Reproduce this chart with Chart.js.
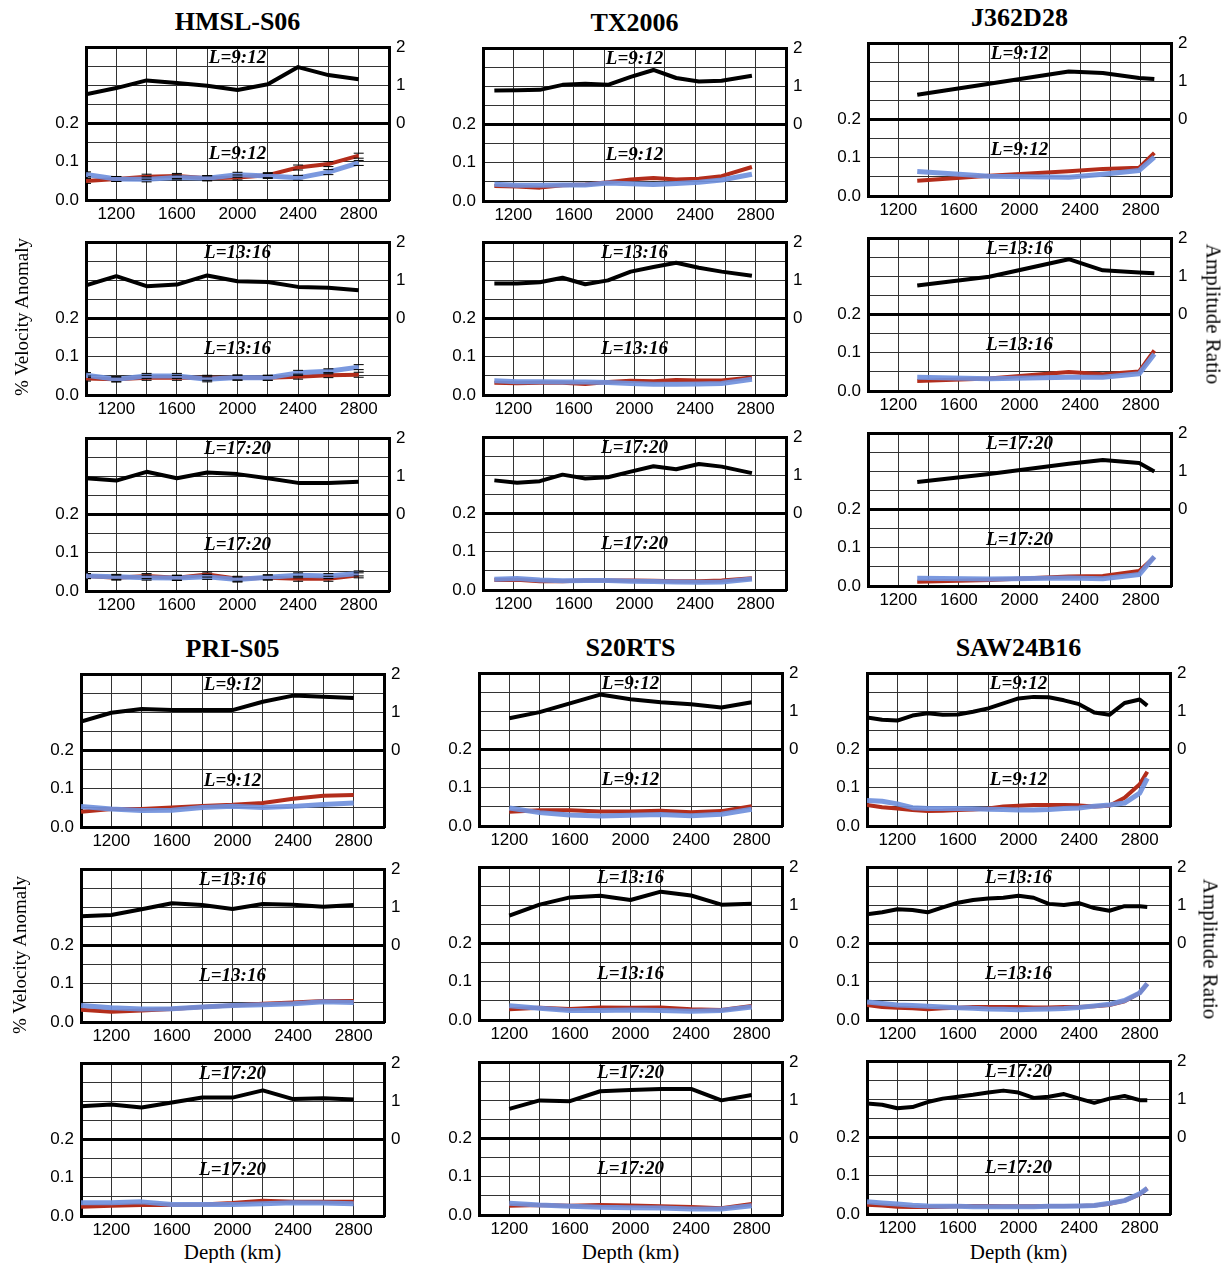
<!DOCTYPE html>
<html>
<head>
<meta charset="utf-8">
<script src="https://cdn.jsdelivr.net/npm/chart.js@4.4.1/dist/chart.umd.min.js"></script>
<style>
  body { margin: 0; background: #fff; width: 1231px; height: 1263px; position: relative; overflow: hidden; }
  canvas { position: absolute; }
  .lbl { position: absolute; white-space: nowrap; transform: translate(-50%, -50%); font-family: "Liberation Serif", serif; color: #000; }
  .title { font-weight: bold; font-size: 26px; }
  .axis { font-size: 19px; }
  .axis2 { font-size: 21px; }
</style>
</head>
<body>
<script>
// degree ranges shown in each row
const degreeLabels = ['L=9:12', 'L=13:16', 'L=17:20'];

// HMSL-S06
const hmslDepth = [1000, 1200, 1400, 1600, 1800, 2000, 2200, 2400, 2600, 2800];
const hmslAmp = [
  [0.77, 0.93, 1.13, 1.06, 0.99, 0.88, 1.03, 1.48, 1.27, 1.16],
  [0.87, 1.11, 0.85, 0.89, 1.13, 0.98, 0.96, 0.83, 0.81, 0.74],
  [0.95, 0.89, 1.12, 0.95, 1.10, 1.06, 0.95, 0.83, 0.83, 0.86]
];
const hmslRed = [
  [0.050, 0.055, 0.061, 0.063, 0.057, 0.059, 0.065, 0.085, 0.094, 0.116],
  [0.043, 0.041, 0.045, 0.045, 0.045, 0.045, 0.045, 0.048, 0.052, 0.053],
  [0.039, 0.035, 0.039, 0.035, 0.043, 0.032, 0.035, 0.032, 0.032, 0.041]
];
const hmslBlue = [
  [0.067, 0.055, 0.054, 0.059, 0.057, 0.066, 0.063, 0.058, 0.073, 0.097],
  [0.052, 0.041, 0.050, 0.050, 0.041, 0.046, 0.045, 0.058, 0.062, 0.073],
  [0.039, 0.037, 0.035, 0.034, 0.037, 0.030, 0.036, 0.041, 0.039, 0.046]
];

// TX2006
const txDepth = [1075, 1225, 1375, 1525, 1675, 1825, 1975, 2125, 2275, 2425, 2575, 2775];
const txAmp = [
  [0.89, 0.90, 0.91, 1.04, 1.07, 1.04, 1.25, 1.43, 1.22, 1.13, 1.15, 1.28],
  [0.92, 0.92, 0.95, 1.07, 0.90, 1.00, 1.23, 1.35, 1.46, 1.33, 1.23, 1.12],
  [0.87, 0.81, 0.85, 1.02, 0.92, 0.95, 1.10, 1.24, 1.16, 1.30, 1.23, 1.06]
];
const txRed = [
  [0.039, 0.038, 0.035, 0.041, 0.043, 0.049, 0.056, 0.060, 0.056, 0.058, 0.065, 0.089],
  [0.032, 0.031, 0.032, 0.032, 0.029, 0.034, 0.037, 0.036, 0.039, 0.038, 0.038, 0.046],
  [0.026, 0.027, 0.023, 0.023, 0.025, 0.025, 0.025, 0.024, 0.023, 0.023, 0.025, 0.031]
];
const txBlue = [
  [0.044, 0.041, 0.041, 0.042, 0.042, 0.047, 0.045, 0.043, 0.046, 0.049, 0.055, 0.070],
  [0.037, 0.035, 0.035, 0.034, 0.034, 0.033, 0.030, 0.028, 0.028, 0.029, 0.030, 0.041],
  [0.028, 0.030, 0.026, 0.024, 0.025, 0.025, 0.023, 0.022, 0.021, 0.020, 0.021, 0.029]
];

// J362D28
const jDepth = [1325, 1800, 2325, 2550, 2790, 2890];
const jAmp = [
  [0.65, 0.94, 1.26, 1.22, 1.09, 1.06],
  [0.76, 0.99, 1.45, 1.16, 1.10, 1.08],
  [0.72, 0.93, 1.20, 1.30, 1.22, 1.00]
];
const jRed = [
  [0.040, 0.053, 0.065, 0.071, 0.074, 0.113],
  [0.026, 0.033, 0.050, 0.044, 0.051, 0.106],
  [0.011, 0.016, 0.025, 0.026, 0.039, 0.075]
];
const jBlue = [
  [0.064, 0.052, 0.049, 0.057, 0.067, 0.102],
  [0.036, 0.032, 0.036, 0.036, 0.045, 0.097],
  [0.020, 0.018, 0.021, 0.019, 0.030, 0.077]
];

// PRI-S05
const priDepth = [1000, 1200, 1400, 1600, 1800, 2000, 2200, 2400, 2600, 2800];
const priAmp = [
  [0.76, 0.99, 1.09, 1.06, 1.06, 1.06, 1.28, 1.44, 1.41, 1.38],
  [0.77, 0.80, 0.95, 1.11, 1.06, 0.96, 1.09, 1.07, 1.02, 1.06],
  [0.87, 0.92, 0.84, 0.97, 1.10, 1.10, 1.29, 1.06, 1.08, 1.05]
];
const priRed = [
  [0.040, 0.047, 0.047, 0.051, 0.055, 0.058, 0.063, 0.074, 0.082, 0.084],
  [0.032, 0.027, 0.030, 0.034, 0.039, 0.043, 0.048, 0.051, 0.055, 0.055],
  [0.024, 0.027, 0.029, 0.029, 0.030, 0.034, 0.040, 0.037, 0.037, 0.037]
];
const priBlue = [
  [0.054, 0.047, 0.043, 0.044, 0.051, 0.054, 0.051, 0.054, 0.059, 0.063],
  [0.043, 0.037, 0.034, 0.035, 0.039, 0.043, 0.045, 0.048, 0.053, 0.051],
  [0.035, 0.035, 0.037, 0.030, 0.030, 0.030, 0.032, 0.035, 0.034, 0.032]
];

// S20RTS
const sDepth = [1200, 1400, 1600, 1800, 2000, 2200, 2400, 2600, 2800];
const sAmp = [
  [0.82, 0.98, 1.21, 1.44, 1.32, 1.24, 1.19, 1.10, 1.24],
  [0.73, 1.02, 1.21, 1.25, 1.14, 1.36, 1.26, 1.02, 1.04],
  [0.78, 1.00, 0.98, 1.24, 1.27, 1.30, 1.30, 1.00, 1.14]
];
const sRed = [
  [0.037, 0.041, 0.041, 0.038, 0.038, 0.040, 0.036, 0.039, 0.052],
  [0.028, 0.032, 0.029, 0.033, 0.032, 0.033, 0.028, 0.026, 0.037],
  [0.024, 0.026, 0.024, 0.026, 0.025, 0.023, 0.021, 0.018, 0.029]
];
const sBlue = [
  [0.047, 0.035, 0.029, 0.026, 0.028, 0.030, 0.027, 0.031, 0.044],
  [0.037, 0.031, 0.025, 0.025, 0.026, 0.025, 0.023, 0.025, 0.034],
  [0.031, 0.026, 0.023, 0.020, 0.019, 0.018, 0.016, 0.016, 0.024]
];

// SAW24B16
const sawDepth = [1000, 1100, 1200, 1300, 1400, 1500, 1600, 1700, 1800, 1900, 2000, 2100, 2200, 2300, 2400, 2500, 2600, 2700, 2800, 2850];
const sawAmp = [
  [0.84, 0.78, 0.76, 0.89, 0.95, 0.91, 0.92, 0.99, 1.08, 1.21, 1.34, 1.38, 1.37, 1.29, 1.19, 0.97, 0.91, 1.22, 1.31, 1.15],
  [0.77, 0.82, 0.90, 0.88, 0.82, 0.95, 1.07, 1.14, 1.18, 1.20, 1.25, 1.20, 1.04, 1.01, 1.06, 0.93, 0.86, 0.98, 0.98, 0.96],
  [0.89, 0.86, 0.77, 0.80, 0.93, 1.02, 1.07, 1.12, 1.18, 1.23, 1.18, 1.04, 1.07, 1.14, 1.02, 0.91, 1.02, 1.09, 0.98, 0.98]
];
const sawRed = [
  [0.055, 0.049, 0.046, 0.042, 0.039, 0.040, 0.042, 0.043, 0.046, 0.051, 0.053, 0.055, 0.055, 0.055, 0.054, 0.051, 0.053, 0.074, 0.109, 0.142],
  [0.039, 0.034, 0.032, 0.031, 0.028, 0.031, 0.032, 0.034, 0.034, 0.034, 0.034, 0.033, 0.033, 0.034, 0.034, 0.036, 0.039, 0.049, 0.071, 0.095],
  [0.024, 0.022, 0.019, 0.018, 0.018, 0.019, 0.020, 0.021, 0.021, 0.020, 0.020, 0.020, 0.021, 0.021, 0.021, 0.022, 0.027, 0.035, 0.051, 0.067]
];
const sawBlue = [
  [0.067, 0.065, 0.058, 0.048, 0.046, 0.046, 0.046, 0.045, 0.044, 0.043, 0.042, 0.042, 0.043, 0.046, 0.047, 0.052, 0.055, 0.060, 0.086, 0.125],
  [0.047, 0.043, 0.039, 0.038, 0.036, 0.034, 0.032, 0.031, 0.029, 0.028, 0.027, 0.028, 0.029, 0.030, 0.033, 0.037, 0.041, 0.051, 0.071, 0.095],
  [0.032, 0.029, 0.026, 0.023, 0.021, 0.020, 0.020, 0.019, 0.019, 0.019, 0.019, 0.019, 0.020, 0.020, 0.021, 0.022, 0.028, 0.035, 0.053, 0.067]
];

// panel placement (box left, box tops per row)
const models = [
  { name: 'HMSL-S06', depth: hmslDepth, amp: hmslAmp, red: hmslRed, blue: hmslBlue, left: 86, tops: [46, 241, 437], errorBars: true },
  { name: 'TX2006', depth: txDepth, amp: txAmp, red: txRed, blue: txBlue, left: 483, tops: [47, 241, 436] },
  { name: 'J362D28', depth: jDepth, amp: jAmp, red: jRed, blue: jBlue, left: 868, tops: [42, 237, 432] },
  { name: 'PRI-S05', depth: priDepth, amp: priAmp, red: priRed, blue: priBlue, left: 81, tops: [673, 868, 1062], depthLabel: true },
  { name: 'S20RTS', depth: sDepth, amp: sAmp, red: sRed, blue: sBlue, left: 479, tops: [672, 866, 1061], depthLabel: true },
  { name: 'SAW24B16', depth: sawDepth, amp: sawAmp, red: sawRed, blue: sawBlue, left: 867, tops: [672, 866, 1060], depthLabel: true }
];

const BOX_W = 303, BOX_H = 154;
const PAD_L = 44, PAD_R = 34, PAD_T = 16, PAD_B = 26;

Chart.defaults.font.family = '"Liberation Sans", Arial, sans-serif';
Chart.defaults.font.size = 17;
Chart.defaults.color = '#000';

function addText(text, x, y, cls, rot) {
  const d = document.createElement('div');
  d.className = 'lbl ' + cls;
  d.textContent = text;
  d.style.left = x + 'px';
  d.style.top = y + 'px';
  if (rot) d.style.transform = 'translate(-50%, -50%) rotate(' + rot + 'deg)';
  document.body.appendChild(d);
}

const near = (a, b) => Math.abs(a - b) < 1e-6;

const panelText = {
  id: 'panelText',
  afterDatasetsDraw(chart, args, opts) {
    const ctx = chart.ctx, a = chart.chartArea;
    const cx = (a.left + a.right) / 2;
    const mid = chart.scales.v.getPixelForValue(0.2);
    ctx.save();
    if (opts.errorBars) {
      ctx.save();
      ctx.beginPath();
      ctx.rect(a.left + 2, a.top, a.right - a.left - 4, a.bottom - a.top);
      ctx.clip();
      ctx.strokeStyle = '#000';
      ctx.lineWidth = 1;
      [1, 2].forEach(i => {
        chart.getDatasetMeta(i).data.forEach(p => {
          ctx.beginPath();
          ctx.moveTo(p.x - 5, p.y - 2.5); ctx.lineTo(p.x + 5, p.y - 2.5);
          ctx.moveTo(p.x - 5, p.y + 2.5); ctx.lineTo(p.x + 5, p.y + 2.5);
          ctx.stroke();
        });
      });
      ctx.restore();
    }
    ctx.font = 'italic bold 19px "Liberation Serif"';
    ctx.fillStyle = '#000';
    ctx.textAlign = 'center';
    ctx.textBaseline = 'middle';
    ctx.fillText(opts.label, cx, a.top + 11);
    ctx.fillText(opts.label, cx, mid + 30);
    ctx.restore();
  }
};

models.forEach(m => {
  addText(m.name, m.left + BOX_W / 2, m.tops[0] - 24, 'title');
  if (m.depthLabel) addText('Depth (km)', m.left + BOX_W / 2, 1252, 'axis2');

  m.tops.forEach((top, r) => {
    const cv = document.createElement('canvas');
    cv.width = PAD_L + BOX_W + PAD_R;
    cv.height = PAD_T + BOX_H + PAD_B;
    cv.style.left = (m.left - PAD_L) + 'px';
    cv.style.top = (top - PAD_T) + 'px';
    document.body.appendChild(cv);

    new Chart(cv, {
      type: 'line',
      data: {
        datasets: [
          { label: 'Amplitude ratio', data: m.depth.map((d, i) => ({ x: d, y: m.amp[r][i] })), yAxisID: 'a',
            borderColor: '#000', borderWidth: 4, pointRadius: 0, order: 0, borderJoinStyle: 'round' },
          { label: 'Red', data: m.depth.map((d, i) => ({ x: d, y: m.red[r][i] })), yAxisID: 'v',
            borderColor: '#b32d1b', borderWidth: 4, pointRadius: 0, order: 2, borderJoinStyle: 'round' },
          { label: 'Blue', data: m.depth.map((d, i) => ({ x: d, y: m.blue[r][i] })), yAxisID: 'v',
            borderColor: 'rgba(112,144,220,0.92)', borderWidth: 5, pointRadius: 0, order: 1, borderJoinStyle: 'round' }
        ]
      },
      options: {
        responsive: false,
        animation: false,
        events: [],
        layout: { padding: { top: PAD_T, left: 0, right: 0, bottom: 0 } },
        plugins: {
          legend: { display: false },
          tooltip: { enabled: false },
          panelText: { label: degreeLabels[r], errorBars: !!m.errorBars }
        },
        scales: {
          x: {
            type: 'linear', min: 1000, max: 3000,
            afterFit: s => { s.height = PAD_B; },
            ticks: {
              stepSize: 200, autoSkip: false, maxRotation: 0, padding: 4,
              callback: v => (v >= 1200 && v <= 2800 && (v - 1200) % 400 === 0) ? String(v) : ''
            },
            grid: { color: '#333', lineWidth: 1, drawTicks: false },
            border: { display: true, width: 3, color: '#000' }
          },
          v: {
            type: 'linear', position: 'left', min: 0, max: 0.4,
            afterFit: s => { s.width = PAD_L; },
            ticks: {
              stepSize: 0.05, padding: 7, autoSkip: false,
              callback: v => (near(v, 0) || near(v, 0.1) || near(v, 0.2)) ? v.toFixed(1) : ''
            },
            grid: {
              drawTicks: false,
              color: c => (near(c.tick.value, 0.2) || near(c.tick.value, 0.4)) ? '#000' : '#333',
              lineWidth: c => (near(c.tick.value, 0.2) || near(c.tick.value, 0.4)) ? 3 : 1
            },
            border: { display: true, width: 3, color: '#000' }
          },
          a: {
            type: 'linear', position: 'right', min: -2, max: 2,
            afterFit: s => { s.width = PAD_R; },
            ticks: {
              stepSize: 1, padding: 7, autoSkip: false,
              callback: v => v >= 0 ? String(v) : ''
            },
            grid: { display: false, drawTicks: false },
            border: { display: true, width: 3, color: '#000' }
          }
        }
      },
      plugins: [panelText]
    });
  });
});

addText('% Velocity Anomaly', 22, 317, 'axis', -90);
addText('% Velocity Anomaly', 20, 955, 'axis', -90);
addText('Amplitude Ratio', 1213, 314, 'axis2', 90);
addText('Amplitude Ratio', 1210, 949, 'axis2', 90);
</script>
</body>
</html>
